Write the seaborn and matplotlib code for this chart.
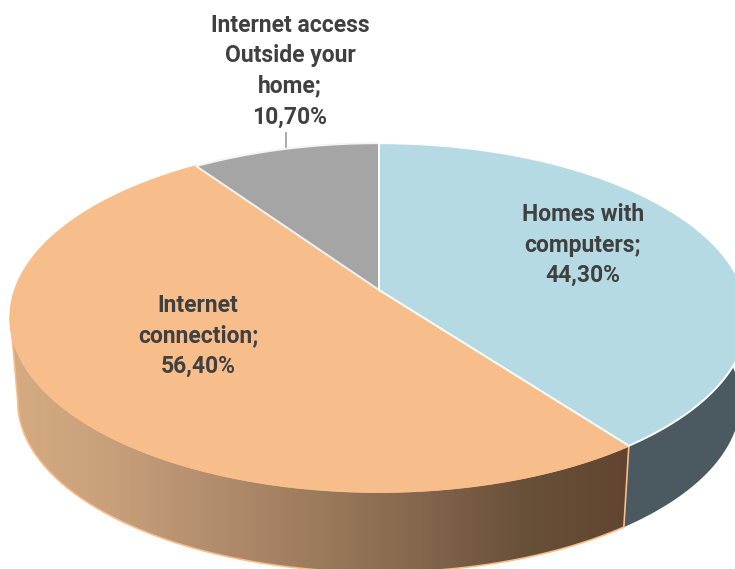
import numpy as np
import matplotlib
matplotlib.use("Agg")
import matplotlib.pyplot as plt
from matplotlib.patches import PathPatch, Polygon
from matplotlib.path import Path
import seaborn as sns

# Shares of households, as published (they do not add up to 100)
categories = ["Homes with\ncomputers;", "Internet\nconnection;", "Internet access\nOutside your\nhome;"]
values = [44.30, 56.40, 10.70]
top_colors = ["#b5dae4", "#f7bd8b", "#a5a5a5"]
edge_colors = ["#ffffff", "#f7bd8b", "#f4f4f4"]
wall_shades = ["#d6ab82", "#c79f7a", "#b28d6d", "#9c7a5c", "#83664c", "#695039", "#614530"]

sns.set_theme(style="white")
plt.rcParams["font.family"] = ["Roboto", "DejaVu Sans"]

# Perspective projection of the tilted unit disc
CX, CY = 379.0, 290.0
RX, RY, TILT = 364.0, 170.0, 0.158
DEPTH, SHRINK = 84.5, 0.98
LEFTMOST = 261.0


def rim(theta_deg, lower=False):
    t = np.radians(np.asarray(theta_deg, dtype=float))
    x, y = np.sin(t), np.cos(t)
    w = 1 + TILT * y
    px, py = RX * x / w, -RY * y / w
    if lower:
        return np.column_stack([CX + SHRINK * px, CY + SHRINK * py + DEPTH])
    return np.column_stack([CX + px, CY + py])


edges = np.concatenate([[0.0], np.cumsum(values)]) / np.sum(values) * 360.0

fig = plt.figure(figsize=(7.35, 5.69), dpi=100)
ax = fig.add_axes([0, 0, 1, 1])
ax.set_xlim(0, 735)
ax.set_ylim(569, 0)
ax.axis("off")


def side_path(a0, a1):
    angles = np.linspace(a0, a1, 200)
    return np.vstack([rim(angles), rim(angles[::-1], lower=True)])


# Wall under the first slice
ax.add_patch(Polygon(side_path(80, edges[1]), closed=True, fc="#4a5a60", ec="none", zorder=1))

# Wall under the second slice, shaded from light tan to dark brown
orange_side = side_path(edges[1], LEFTMOST)
wall_cmap = sns.blend_palette(wall_shades, n_colors=256, as_cmap=True)
ramp = np.linspace(0, 1, 256)[None, :]
img = ax.imshow(ramp, extent=(10, 628, 590, 300), cmap=wall_cmap, aspect="auto", zorder=2)
ax.set_xlim(0, 735)
ax.set_ylim(569, 0)
clip = PathPatch(Path(np.vstack([orange_side, orange_side[:1]])), fc="none", ec="#f7bd8b", lw=1.2, zorder=2.5)
ax.add_patch(clip)
img.set_clip_path(clip)

# Top faces of the slices, the first one last so its light rim stays on top
for i in (1, 2, 0):
    angles = np.linspace(edges[i], edges[i + 1], 200)
    outline = np.vstack([[CX, CY], rim(angles)])
    ax.add_patch(Polygon(outline, closed=True, fc=top_colors[i], ec=edge_colors[i], lw=1.4,
                         joinstyle="round", zorder=3))

# Data labels
text_color = "#404040"
label_positions = [(583, 245), (198, 336), (290, 71)]
for name, value, (x, y) in zip(categories, values, label_positions):
    label = f"{name}\n{value:.2f}".replace(".", ",") + "%"
    ax.text(x, y, label, ha="center", va="center", fontsize=16.5, fontweight="bold",
            color=text_color, linespacing=1.42, zorder=5)

# Leader line for the small slice
ax.plot([286, 286], [132, 150], color="#a5a5a5", lw=1.3, zorder=2.8, solid_capstyle="butt")

fig.savefig("out.png", dpi=100)
